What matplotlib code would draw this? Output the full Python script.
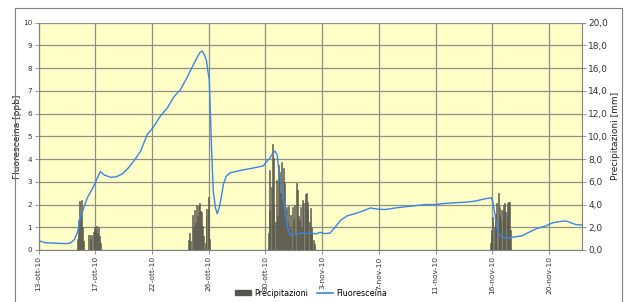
import matplotlib
matplotlib.use("Agg")
import matplotlib.pyplot as plt
from matplotlib.patches import Rectangle, Patch
from matplotlib.lines import Line2D
from matplotlib.ticker import FuncFormatter

# x positions are in "tick interval" units (one unit between consecutive date labels)
tick_labels = ["13-ott-10", "17-ott-10", "22-ott-10", "26-ott-10", "30-ott-10",
               "3-nov-10", "7-nov-10", "11-nov-10", "16-nov-10", "20-nov-10"]

fluo_x = [0.00, 0.04, 0.12, 0.30, 0.48, 0.56, 0.63, 0.69, 0.74, 0.79, 0.86, 0.93, 1.00,
          1.06, 1.09, 1.16, 1.27, 1.37, 1.48, 1.58, 1.69, 1.80, 1.92, 2.01, 2.15, 2.27,
          2.39, 2.50, 2.61, 2.71, 2.78, 2.85, 2.89, 2.92, 2.96, 2.99, 3.01, 3.03, 3.05,
          3.08, 3.12, 3.15, 3.19, 3.22, 3.26, 3.31, 3.38, 3.47, 3.56, 3.66, 3.77, 3.87,
          3.96, 4.01, 4.08, 4.14, 4.17, 4.21, 4.24, 4.30, 4.35, 4.40, 4.45, 4.54, 4.65,
          4.74, 4.82, 4.89, 4.96, 5.05, 5.14, 5.23, 5.32, 5.44, 5.58, 5.70, 5.85, 5.97,
          6.11, 6.29, 6.46, 6.64, 6.81, 6.99, 7.17, 7.34, 7.52, 7.69, 7.87, 7.98, 8.01,
          8.05, 8.08, 8.12, 8.17, 8.27, 8.40, 8.52, 8.66, 8.79, 8.93, 9.07, 9.19, 9.30,
          9.38, 9.47, 9.58]
fluo_y = [0.44, 0.38, 0.32, 0.30, 0.28, 0.30, 0.45, 0.80, 1.40, 1.80, 2.30, 2.60, 2.95,
          3.30, 3.45, 3.30, 3.20, 3.22, 3.35, 3.60, 3.95, 4.35, 5.10, 5.35, 5.90, 6.25,
          6.75, 7.05, 7.55, 8.05, 8.40, 8.70, 8.75, 8.60, 8.35, 7.80, 7.50, 6.00, 4.50,
          2.60, 1.85, 1.60, 1.90, 2.30, 2.90, 3.25, 3.40, 3.45, 3.50, 3.55, 3.60, 3.65,
          3.70, 3.85, 4.05, 4.30, 4.35, 4.15, 3.40, 2.60, 1.60, 0.90, 0.65, 0.70, 0.75,
          0.72, 0.75, 0.70, 0.78, 0.72, 0.75, 1.00, 1.30, 1.50, 1.60, 1.70, 1.85, 1.80,
          1.78, 1.85, 1.90, 1.95, 2.00, 2.00, 2.05, 2.08, 2.10, 2.15, 2.25, 2.30, 2.10,
          1.50, 1.00, 0.70, 0.57, 0.52, 0.58, 0.62, 0.80, 0.95, 1.05, 1.20, 1.25, 1.28,
          1.20, 1.12, 1.10]

rain_x = [0.69, 0.70, 0.72, 0.74, 0.76, 0.77, 0.79, 0.89, 0.92, 0.93, 0.97, 0.99, 1.00,
          1.02, 1.04, 1.06, 1.07, 1.09,
          2.64, 2.66, 2.68, 2.71, 2.73, 2.75, 2.76, 2.78, 2.80, 2.82, 2.83, 2.85, 2.87,
          2.89, 2.90, 2.94, 2.96, 2.97, 2.99, 3.01,
          4.05, 4.07, 4.08, 4.10, 4.12, 4.14, 4.15, 4.17, 4.19, 4.21, 4.23, 4.24, 4.26,
          4.28, 4.30, 4.32, 4.33, 4.35, 4.37, 4.39, 4.40, 4.42, 4.44, 4.45, 4.47, 4.49,
          4.51, 4.52, 4.54, 4.56, 4.58, 4.60, 4.61, 4.63, 4.65, 4.67, 4.68, 4.70, 4.72,
          4.74, 4.75, 4.77, 4.79, 4.81, 4.82, 4.84, 4.86,
          7.96, 7.98, 7.99, 8.01, 8.03, 8.05, 8.06, 8.08, 8.10, 8.12, 8.13, 8.15, 8.17,
          8.19, 8.20, 8.22, 8.24, 8.26, 8.27, 8.29, 8.31, 8.32]
rain_mm = [1.0, 2.6, 4.3, 3.0, 4.4, 2.0, 0.8, 1.3, 1.0, 1.3, 1.6, 2.0, 1.8,
           2.1, 1.5, 2.0, 1.2, 0.6,
           0.9, 1.5, 0.8, 3.1, 2.0, 3.5, 2.4, 4.0, 3.0, 3.9, 4.15, 3.4, 3.3,
           2.1, 1.2, 0.6, 3.0, 3.6, 4.7, 1.0,
           1.5, 3.5, 7.0, 5.5, 9.3, 8.1, 4.0, 2.5, 6.2, 3.0, 7.5, 6.9, 5.0,
           7.7, 4.5, 7.2, 5.9, 3.5, 3.8, 2.5, 3.9, 2.0, 3.1, 1.8, 3.8, 2.7,
           1.5, 4.0, 5.9, 5.3, 3.0, 2.6, 3.8, 2.0, 4.4, 3.0, 4.1, 4.9, 5.0,
           3.5, 4.2, 2.5, 3.7, 2.0, 1.5, 0.9, 0.5,
           0.6, 1.2, 1.75, 2.9, 2.0, 3.2, 2.5, 4.1, 5.0, 3.0, 3.8, 2.6, 3.5,
           4.0, 2.8, 4.1, 3.3, 4.1, 3.0, 4.2, 4.2, 1.75]

fig = plt.figure(figsize=(6.25, 3.02), dpi=100)
fig.patch.set_facecolor("white")
# outer chart frame
fig.add_artist(Rectangle((15 / 625, -0.05), (622 - 15) / 625, 1.05 - 8 / 302,
                         transform=fig.transFigure, fill=False,
                         edgecolor="#808080", linewidth=0.8))

rect = [38.5 / 625, 52 / 302, (582 - 38.5) / 625, (250 - 22.7) / 302]
axr = fig.add_axes(rect)            # precipitation (right axis)
axl = axr.twinx()                    # fluorescein (left axis)
axl.yaxis.tick_left()
axl.yaxis.set_label_position("left")
axr.yaxis.tick_right()
axr.yaxis.set_label_position("right")

axr.set_facecolor("#FFFFC8")
axl.patch.set_visible(False)
axr.set_axisbelow(True)

xmax = 9.58
axr.set_xlim(0, xmax)
axr.set_ylim(0, 20)
axl.set_ylim(0, 10)

axr.bar(rain_x, rain_mm, width=0.018, color="#86866f", edgecolor="#4a4a42",
        linewidth=0.4, zorder=2)
axl.plot(fluo_x, fluo_y, color="#3a84e6", linewidth=1.0, zorder=3)

axr.set_xticks(range(len(tick_labels)))
axr.set_xticklabels(tick_labels, rotation=90, fontsize=5.4, color="#333333")
axr.set_yticks(range(0, 21, 2))
axr.yaxis.set_major_formatter(FuncFormatter(lambda v, p: f"{v:.1f}".replace(".", ",")))
axl.set_yticks(range(0, 11))

axr.grid(True, color="#8f8f86", linewidth=0.9)
for a in (axr, axl):
    for s in a.spines.values():
        s.set_visible(False)
    a.tick_params(axis="both", length=3, width=0.6, color="#808080",
                  labelcolor="#333333", pad=1.5)
for side in ("bottom", "left", "right"):
    axr.spines[side].set_visible(True)
    axr.spines[side].set_color("#808080")
axr.tick_params(axis="y", labelsize=6.5)
axl.tick_params(axis="y", labelsize=5.2)

axl.set_ylabel("Fluoresceina [ppb]", fontsize=6.5, color="#222222", labelpad=1)
axr.set_ylabel("Precipitazioni [mm]", fontsize=6.5, color="#222222", labelpad=2)

handles = [Patch(facecolor="#555550", edgecolor="#555550"),
           Line2D([0], [0], color="#3a84e6", linewidth=1.2)]
fig.legend(handles, ["Precipitazioni", "Fluoresceina"], loc="center",
           bbox_to_anchor=(311 / 625, 1 - 293 / 302), ncol=2, frameon=False,
           fontsize=5.8, handlelength=2.0, handleheight=0.5, columnspacing=1.0,
           handletextpad=0.4)

fig.savefig("out.png", dpi=100, facecolor="white")
